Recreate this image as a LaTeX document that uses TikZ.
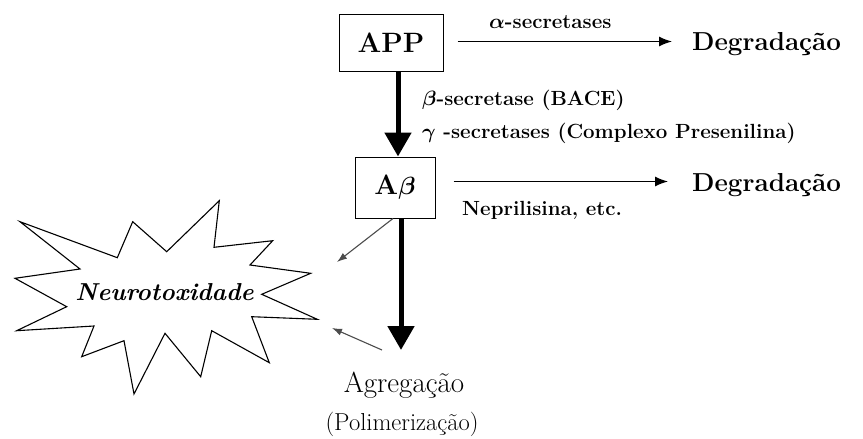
\documentclass[tikz,border=0pt]{standalone}
\usepackage{fontspec}
\usepackage{amsmath}
\usetikzlibrary{arrows.meta}
\tikzset{
  boxnode/.style={draw, line width=1pt, inner sep=0pt, font=\fontsize{28}{30}\selectfont\bfseries\boldmath},
  degtext/.style={anchor=base west, inner sep=0pt, font=\fontsize{26}{30}\selectfont\bfseries},
  lbltext/.style={anchor=base west, inner sep=0pt, font=\fontsize{20.5}{24}\selectfont\bfseries\boldmath},
  thinarrow/.style={line width=1.4pt, -{Latex[length=13pt,width=10pt]}},
  thickarrow/.style={line width=5pt, -{Triangle[length=24pt,width=26pt]}},
  greyarrow/.style={draw=black!70, line width=1.1pt, -{Latex[length=10pt,width=7pt]}},
  starline/.style={line width=1.1pt, line join=miter}
}
\begin{document}
\begin{tikzpicture}[x=1pt,y=-1pt]
\useasboundingbox (0,0) rectangle (863,439);
% boxes
\node[boxnode, minimum width=104pt, minimum height=57pt] (app) at (391,42.5) {APP};
\node[boxnode, minimum width=80pt, minimum height=61pt] (abeta) at (395,187.5) {A$\beta$};
% right side labels
\node[degtext] (deg1) at (692,50) {Degradação};
\node[degtext] (deg2) at (692,191) {Degradação};
\node[lbltext] (alpha) at (489,28) {$\alpha$-secretases};
\node[lbltext] (beta) at (422,105) {$\beta$-secretase (BACE)};
\node[lbltext] (gamma) at (422,138) {$\gamma$ -secretases (Complexo Presenilina)};
\node[lbltext] (nep) at (462,215) {Neprilisina, etc.};
% bottom labels
\node[anchor=base, inner sep=0pt, font=\fontsize{29}{32}\selectfont] (agreg) at (404,392.5) {Agregação};
\node[anchor=base, inner sep=0pt, font=\fontsize{24.5}{28}\selectfont] (polim) at (402,430) {(Polimerização)};
% star
\draw[starline] (20,221.7) -- (117.3,257.7) -- (132.7,221.7) -- (166.7,251.7) -- (219.3,200.7)
  -- (214,247.3) -- (272.7,240.7) -- (250,265) -- (310.7,273.3) -- (261.7,294.3)
  -- (317.3,319.3) -- (251.7,316.7) -- (269.3,362.7) -- (211.7,330.7) -- (200.7,376.7)
  -- (165,333.3) -- (134,394) -- (124,340.7) -- (81.7,356.7) -- (94,326)
  -- (16.7,330.7) -- (66.7,306.7) -- (15,278.3) -- (80,269) -- cycle;
\node[anchor=base, inner sep=0pt, font=\fontsize{24.5}{28}\selectfont\bfseries\itshape] (neuro) at (164.5,300) {Neurotoxidade};
% connectors
\draw[thinarrow] ([xshift=14pt,yshift=1pt]app.east) -- ([xshift=-20pt,yshift=1pt]app.east -| deg1.west);
\draw[thinarrow] ([xshift=18pt,yshift=6pt]abeta.east) -- ([xshift=-24pt,yshift=6pt]abeta.east -| deg2.west);
\draw[thickarrow] (app.south -| 398,0) -- (abeta.north -| 398,0);
\coordinate (abot) at (401,350);
\draw[thickarrow] (abeta.south -| abot) -- (abot);
\coordinate (n1) at (337,262);
\coordinate (n2) at (332,328);
\coordinate (g2) at (382,350);
\draw[greyarrow] ([xshift=-2pt]abeta.south) -- (n1);
\draw[greyarrow] (g2) -- (n2);
\end{tikzpicture}
\end{document}
